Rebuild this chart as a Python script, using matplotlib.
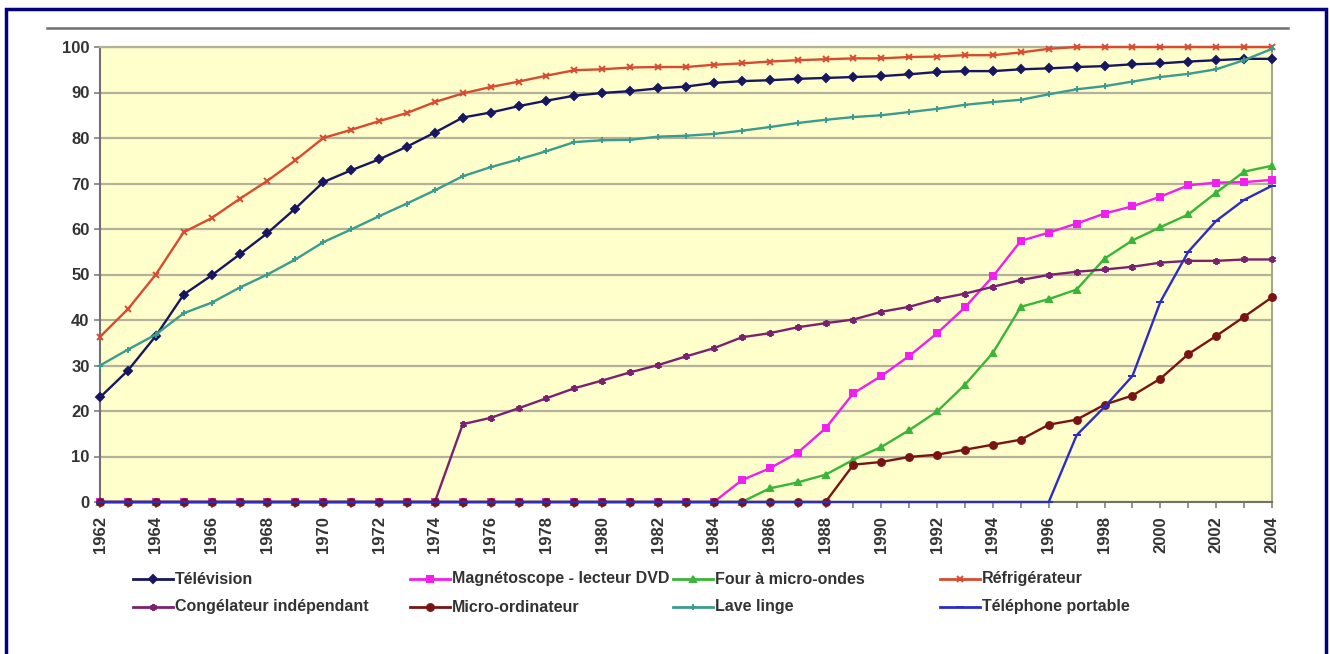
import matplotlib
matplotlib.use("Agg")
import matplotlib.pyplot as plt
from matplotlib.lines import Line2D
from matplotlib.patches import Rectangle

plt.rcParams["font.family"] = ["Liberation Sans", "DejaVu Sans"]
plt.rcParams["font.weight"] = "bold"

# années
years = list(range(1962, 2005))

# taux d'équipement des ménages (%)
television = [23.0, 28.9, 36.5, 45.6, 49.8, 54.4, 59.1, 64.5, 70.3, 72.9,
              75.3, 78.1, 81.2, 84.5, 85.6, 87.0, 88.2, 89.3, 89.9, 90.3,
              90.9, 91.3, 92.1, 92.5, 92.7, 93.0, 93.2, 93.4, 93.6, 94.0,
              94.5, 94.7, 94.7, 95.1, 95.3, 95.6, 95.8, 96.2, 96.4, 96.8,
              97.1, 97.4, 97.4]
magnetoscope = [0] * 23 + [4.8, 7.4, 10.8, 16.2, 23.9, 27.7, 32.1, 37.1, 42.8, 49.6,
                           57.4, 59.2, 61.2, 63.4, 65.0, 67.1, 69.6, 70.2, 70.3, 70.8]
micro_ondes = [0] * 24 + [3.0, 4.3, 6.0, 9.3, 12.1, 15.8, 19.9, 25.8, 32.8, 42.9,
                          44.6, 46.7, 53.5, 57.5, 60.4, 63.2, 68.0, 72.6, 73.9]
refrigerateur = [36.3, 42.4, 50.0, 59.3, 62.4, 66.6, 70.6, 75.1, 80.0, 81.8,
                 83.7, 85.5, 87.9, 89.8, 91.2, 92.4, 93.7, 94.9, 95.1, 95.5,
                 95.6, 95.6, 96.1, 96.4, 96.8, 97.1, 97.3, 97.5, 97.5, 97.8,
                 97.9, 98.2, 98.2, 98.8, 99.6, 100, 100, 100, 100, 100,
                 100, 100, 100]
congelateur = [0] * 13 + [17.1, 18.5, 20.6, 22.8, 25.0, 26.7, 28.5, 30.1, 32.0, 33.8,
                          36.2, 37.1, 38.4, 39.3, 40.1, 41.8, 42.9, 44.6, 45.8, 47.3,
                          48.8, 49.9, 50.6, 51.1, 51.7, 52.6, 53.0, 53.0, 53.3, 53.3]
micro_ordi = [0] * 27 + [8.2, 8.8, 9.9, 10.4, 11.5, 12.6, 13.7, 17.0, 18.1, 21.4,
                         23.4, 27.1, 32.5, 36.5, 40.7, 45.0]
lave_linge = [30.0, 33.5, 36.8, 41.5, 43.8, 47.1, 50.0, 53.3, 57.1, 59.9,
              62.8, 65.6, 68.5, 71.6, 73.6, 75.3, 77.1, 79.1, 79.5, 79.6,
              80.3, 80.5, 80.9, 81.6, 82.4, 83.3, 84.0, 84.6, 85.0, 85.7,
              86.4, 87.3, 87.9, 88.4, 89.6, 90.7, 91.4, 92.4, 93.4, 94.1,
              95.1, 97.1, 99.6]
telephone = [0] * 35 + [14.7, 20.9, 27.7, 44.0, 55.0, 61.8, 66.4, 69.5]

labels = ["Télévision", "Magnétoscope - lecteur DVD", "Four à micro-ondes", "Réfrigérateur",
          "Congélateur indépendant", "Micro-ordinateur", "Lave linge", "Téléphone portable"]
series = [television, magnetoscope, micro_ondes, refrigerateur,
          congelateur, micro_ordi, lave_linge, telephone]

# styles (couleur, marqueur, taille)
styles = [
    ("#17175f", "D", 4),
    ("#f01ef0", "s", 3.8),
    ("#38b638", "^", 4.5),
    ("#d94a30", "x", 4),
    ("#7a2170", (6, 2, 0), 5),
    ("#7a1414", "o", 5),
    ("#3a9c8e", "+", 5),
    ("#2c2cc8", "_", 6),
]

W, H = 1330, 654
fig = plt.figure(figsize=(W / 100, H / 100), dpi=100)
fig.patch.set_facecolor("white")

ax = fig.add_axes([100 / W, 1 - 502 / H, (1272 - 100) / W, (502 - 47) / H])
ax.set_facecolor("#ffffcc")

for vals, lab, (col, mk, ms) in zip(series, labels, styles):
    ax.plot(years, vals, color=col, lw=1.7, marker=mk, markersize=ms,
            markeredgewidth=1.4, label=lab, clip_on=False, zorder=3)

ax.set_xlim(1962, 2004)
ax.set_ylim(0, 100)
ax.set_yticks(range(0, 101, 10))
ax.set_xticks(years)
ax.set_xticklabels([str(y) if y % 2 == 0 else "" for y in years], rotation=90)
ax.yaxis.grid(True, color="#b3b09c", lw=1.6, zorder=0)
ax.set_axisbelow(True)

ax.tick_params(axis="both", labelsize=12, labelcolor="#333333", color="#808080",
               direction="out", length=4, width=1.2)
ax.tick_params(axis="x", pad=6)
for lbl in ax.get_xticklabels() + ax.get_yticklabels():
    lbl.set_fontweight("bold")

ax.spines["left"].set_color("#707070")
ax.spines["left"].set_linewidth(1.5)
ax.spines["bottom"].set_color("#707070")
ax.spines["bottom"].set_linewidth(1.5)
ax.spines["right"].set_color("#a8a68f")
ax.spines["right"].set_linewidth(1.5)
ax.spines["top"].set_color("#b3b09c")
ax.spines["top"].set_linewidth(1.6)

# légende placée à la main (colonnes irrégulières comme dans Excel)
col_x = [133, 410, 673, 940]
row_y = [579, 607]
for i, (lab, (col, mk, ms)) in enumerate(zip(labels, styles)):
    x0 = col_x[i % 4]
    y0 = row_y[i // 4]
    fy = 1 - y0 / H
    fig.add_artist(Line2D([x0 / W, (x0 + 40) / W], [fy, fy], color=col, lw=2,
                          transform=fig.transFigure))
    fig.add_artist(Line2D([(x0 + 20) / W], [fy], color=col, marker=mk, markersize=ms,
                          markeredgewidth=1.4, transform=fig.transFigure))
    fig.text((x0 + 42) / W, fy, lab, fontsize=11.5, fontweight="bold",
             color="#333333", va="center", ha="left")

# trait gris en haut et cadre bleu
fig.add_artist(Line2D([47 / W, 1288 / W], [1 - 28 / H, 1 - 28 / H], color="#6e6e6e",
                      lw=1.8, transform=fig.transFigure))
fig.add_artist(Rectangle((6 / W, -0.05), (1326 - 6) / W, 1.05 - 9 / H, fill=False,
                         edgecolor="#000080", lw=2.5, transform=fig.transFigure))

fig.savefig("out.png", dpi=100)
